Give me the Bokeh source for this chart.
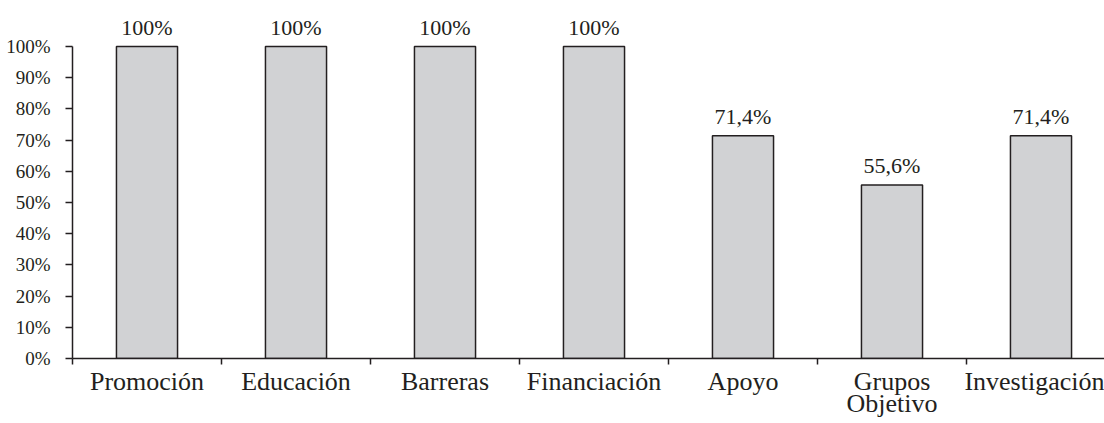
from bokeh.plotting import figure
from bokeh.models import Range1d, FixedTicker, ColumnDataSource, LinearAxis
from bokeh.core.properties import value
from bokeh.embed import file_html
from bokeh.resources import INLINE

categories = ["Promoción", "Educación", "Barreras", "Financiación", "Apoyo",
              "Grupos\nObjetivo", "Investigación"]
values = [100, 100, 100, 100, 71.4, 55.6, 71.4]
value_labels = ["100%", "100%", "100%", "100%", "71,4%", "55,6%", "71,4%"]
y_ticks = [0, 10, 20, 30, 40, 50, 60, 70, 80, 90, 100]
y_tick_labels = ["0%", "10%", "20%", "30%", "40%", "50%", "60%", "70%", "80%", "90%", "100%"]

FONT = "Liberation Serif"
TXT = "#231f20"

centers = [i + 0.5 for i in range(len(categories))]
bounds = list(range(len(categories) + 1))

src = ColumnDataSource(dict(x=centers, top=values, label=value_labels))

p = figure(width=1104, height=423, output_backend="svg", toolbar_location=None,
           x_range=Range1d(0, 1032 / 149), y_range=Range1d(0, 358 / 3.12),
           x_axis_type=None, y_axis_type=None,
           min_border_left=72, min_border_right=0, min_border_top=0,
           min_border_bottom=65)
p.outline_line_color = None
p.background_fill_color = "white"
p.border_fill_color = "white"

p.vbar(x="x", top="top", width=0.41, source=src, fill_color="#d1d2d4",
       line_color="#231f20", line_width=1.5)

p.text(x="x", y="top", text="label", source=src, text_align="center",
       text_baseline="bottom", y_offset=-7, text_font=value(FONT),
       text_font_size="22px", text_color=TXT)

yaxis = LinearAxis(ticker=FixedTicker(ticks=y_ticks, minor_ticks=[]),
                   major_label_overrides={t: l for t, l in zip(y_ticks, y_tick_labels)})
yaxis.bounds = (0, 100)
yaxis.axis_line_color = TXT
yaxis.axis_line_width = 1.5
yaxis.major_tick_line_color = TXT
yaxis.major_tick_line_width = 1.5
yaxis.major_tick_out = 7
yaxis.major_tick_in = 0
yaxis.minor_tick_line_color = None
yaxis.major_label_standoff = 15
yaxis.major_label_text_font = FONT
yaxis.major_label_text_font_size = "19px"
yaxis.major_label_text_color = TXT
p.add_layout(yaxis, "left")

xaxis = LinearAxis(ticker=FixedTicker(ticks=centers, minor_ticks=bounds),
                   major_label_overrides={c: l for c, l in zip(centers, categories)})
xaxis.axis_line_color = TXT
xaxis.axis_line_width = 1.5
xaxis.major_tick_out = 0
xaxis.major_tick_in = 0
xaxis.major_tick_line_color = None
xaxis.minor_tick_line_color = TXT
xaxis.minor_tick_line_width = 1.5
xaxis.minor_tick_out = 6
xaxis.minor_tick_in = 0
xaxis.major_label_standoff = 2
xaxis.major_label_text_font = FONT
xaxis.major_label_text_font_size = "26px"
xaxis.major_label_text_color = TXT
xaxis.major_label_text_line_height = 0.76
p.add_layout(xaxis, "below")

open("out.html", "w").write(file_html(p, INLINE))
